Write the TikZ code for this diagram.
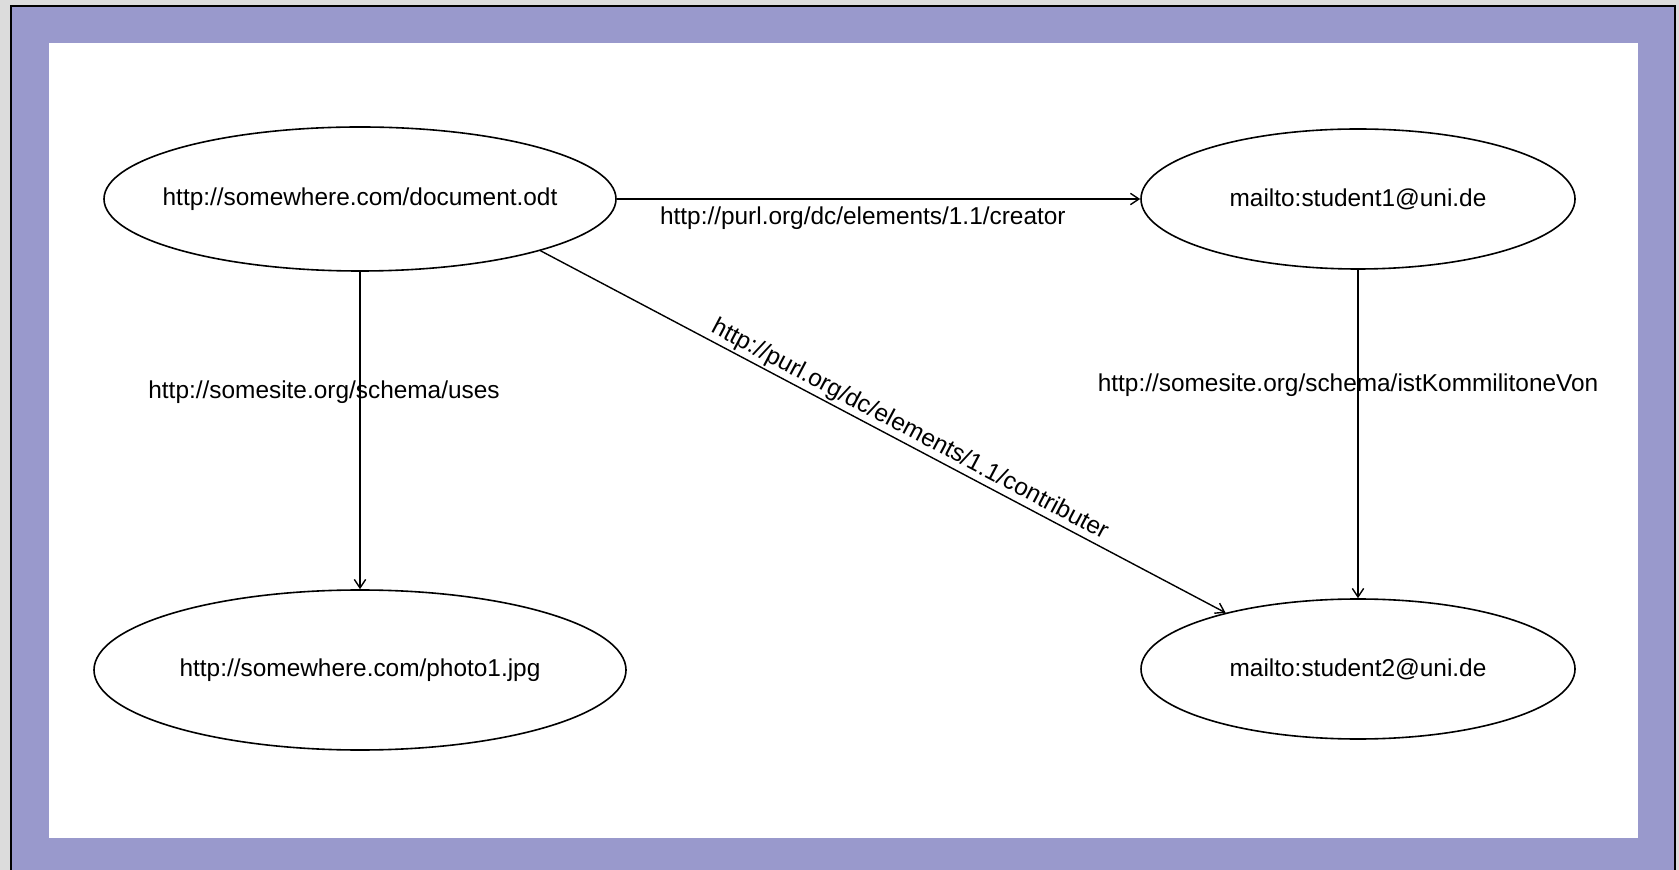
\documentclass[tikz,border=0pt]{standalone}
\usepackage{fontspec}
\setmainfont{Liberation Sans}
\usetikzlibrary{arrows.meta,shapes.geometric,positioning}
\definecolor{frameBlue}{RGB}{153,153,204}
\definecolor{paneGray}{RGB}{220,220,220}
\tikzset{%
    >={Straight Barb[width=2mm,length=1.5mm]},
    base/.style = {
        ellipse, draw=black, line width=0.8pt, inner sep=0pt,
        label distance=0pt
    },
    resource/.style = {base},
    person/.style = {base, minimum width=217pt, minimum height=70pt},
    link/.style = {->, line width=0.7pt},
}

\begin{document}
\begin{tikzpicture}[
        x=0.5pt, y=-0.5pt,
        every node/.style={font=\fontsize{12.2}{14}\selectfont},
        every label/.style={font=\fontsize{12.2}{14}\selectfont}
    ]
        % Window frame
        \useasboundingbox (0,0) rectangle (1679,870);
        \fill[paneGray] (0,0) rectangle (1679,870);
        \fill[black] (10,5) rectangle (1676,870);
        \fill[frameBlue] (12,7) rectangle (1674,870);
        \fill[white] (49,43) rectangle (1638,838);

        % Nodes position
        \node (doc)   [resource, minimum width=256pt, minimum height=72pt,
                       label=center:{http://somewhere.com/document.odt}]
                       at (360,199) {};
        \node (photo) [resource, minimum width=266pt, minimum height=80pt,
                       label=center:{http://somewhere.com/photo1.jpg}]
                       at (360,670) {};
        \node (stuA)  [person, label=center:{mailto:student1@uni.de}]
                       at (1358,199) {};
        \node (stuB)  [person, label=center:{mailto:student2@uni.de}]
                       at (1358,669) {};

        % Arrow specification
        \draw[link] (doc) -- node[below, pos=0.47] {http://purl.org/dc/elements/1.1/creator} (stuA);
        \draw[link] (doc) -- node[pos=0.38, xshift=-18pt] {http://somesite.org/schema/uses} (photo);
        \draw[link] (stuA) -- node[pos=0.35, xshift=-5pt] {http://somesite.org/schema/istKommilitoneVon} (stuB);
        \draw[link] (doc.-16.6) -- node[sloped, above, pos=0.53, inner sep=1pt] {http://purl.org/dc/elements/1.1/contributer} (stuB.157.4);
    \end{tikzpicture}
\end{document}
